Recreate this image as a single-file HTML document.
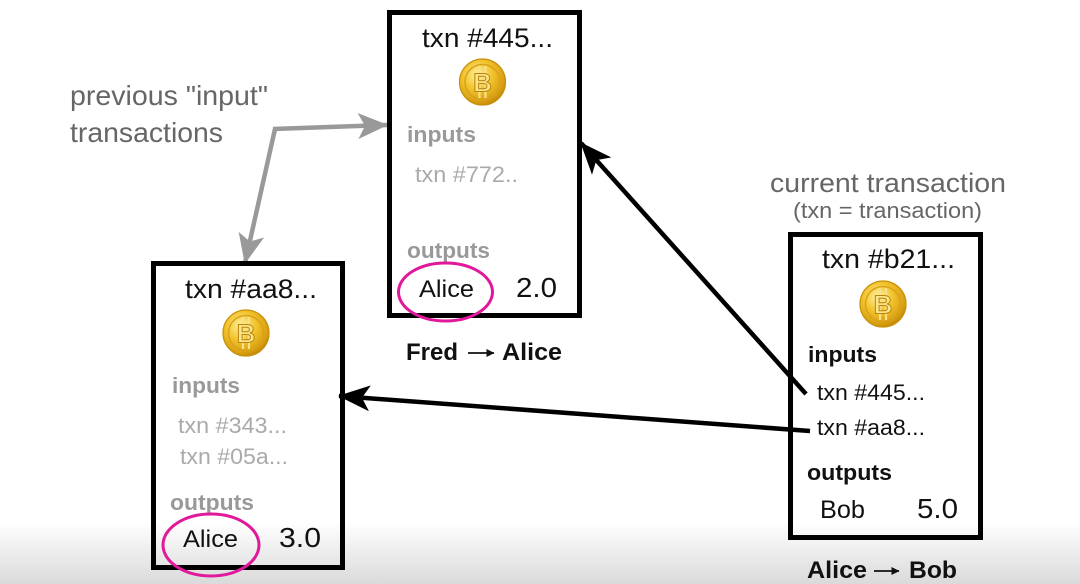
<!DOCTYPE html>
<html><head><meta charset="utf-8">
<style>
html,body{margin:0;padding:0;background:#fff;}
svg{display:block;}
text{font-family:"Liberation Sans",Arial,sans-serif;}
</style></head>
<body>
<svg width="1080" height="584" viewBox="0 0 1080 584" xmlns="http://www.w3.org/2000/svg">
<defs>
  <linearGradient id="bg" x1="0" y1="0" x2="0" y2="1">
    <stop offset="0" stop-color="#ffffff"/>
    <stop offset="1" stop-color="#dadada"/>
  </linearGradient>
  <radialGradient id="coin" cx="0.4" cy="0.35" r="0.7">
    <stop offset="0" stop-color="#fff2a0"/>
    <stop offset="0.45" stop-color="#f2c32c"/>
    <stop offset="0.85" stop-color="#d49a0e"/>
    <stop offset="1" stop-color="#b47f08"/>
  </radialGradient>
  <marker id="ah" viewBox="0 0 32 26" refX="31" refY="13" markerUnits="userSpaceOnUse" markerWidth="32" markerHeight="26" orient="auto">
    <path d="M0,0 L32,13 L0,26 L8,13 Z" fill="#000"/>
  </marker>
  <marker id="ahg" viewBox="0 0 30 26" refX="29" refY="13" markerUnits="userSpaceOnUse" markerWidth="30" markerHeight="26" orient="auto">
    <path d="M0,0 L30,13 L0,26 L7,13 Z" fill="#999"/>
  </marker>
  <marker id="sa" viewBox="0 0 8 8" refX="7.5" refY="4" markerUnits="userSpaceOnUse" markerWidth="8" markerHeight="8" orient="auto">
    <path d="M0,0 L8,4 L0,8 Z" fill="#111"/>
  </marker>
  <g id="btc">
    <circle cx="0" cy="0" r="23.5" fill="url(#coin)"/>
    <circle cx="0" cy="0" r="23" fill="none" stroke="#c8900a" stroke-width="1.2"/>
    <circle cx="0" cy="0" r="17.5" fill="none" stroke="#d9a21a" stroke-width="1.5"/>
    <line x1="-3" y1="-16" x2="-3" y2="16" stroke="#f8e08a" stroke-width="2.2"/>
    <line x1="3" y1="-16" x2="3" y2="16" stroke="#f8e08a" stroke-width="2.2"/>
  </g>
</defs>

<rect x="0" y="0" width="1080" height="584" fill="#fff"/>
<rect x="0" y="522" width="1080" height="62" fill="url(#bg)"/>

<!-- labels top-left -->
<text x="70" y="105" font-size="28" fill="#666" textLength="198" lengthAdjust="spacingAndGlyphs">previous "input"</text>
<text x="70" y="142" font-size="28" fill="#666" textLength="153" lengthAdjust="spacingAndGlyphs">transactions</text>

<!-- gray arrows -->
<line x1="273" y1="129" x2="387" y2="125" stroke="#999" stroke-width="4.5" marker-end="url(#ahg)"/>
<line x1="275" y1="129" x2="245" y2="263" stroke="#999" stroke-width="4.5" marker-end="url(#ahg)"/>

<!-- current transaction label -->
<text x="770" y="192" font-size="27" fill="#666" textLength="236" lengthAdjust="spacingAndGlyphs">current transaction</text>
<text x="793" y="218" font-size="22" fill="#666" textLength="189" lengthAdjust="spacingAndGlyphs">(txn = transaction)</text>

<!-- Box 1 -->
<rect x="389.5" y="12.5" width="190" height="303" fill="none" stroke="#000" stroke-width="5"/>
<text x="422" y="47" font-size="27" fill="#111" textLength="131" lengthAdjust="spacingAndGlyphs">txn #445...</text>
<use href="#btc" x="482.5" y="82"/>
<text x="482.5" y="91.5" font-size="26" font-weight="bold" fill="#fbe48a" stroke="#b9840a" stroke-width="1" text-anchor="middle">B</text>
<text x="407" y="142" font-size="22" font-weight="bold" fill="#999" textLength="69" lengthAdjust="spacingAndGlyphs">inputs</text>
<text x="415" y="182" font-size="22" fill="#aaa" textLength="103" lengthAdjust="spacingAndGlyphs">txn #772..</text>
<text x="407" y="258" font-size="22" font-weight="bold" fill="#999" textLength="83" lengthAdjust="spacingAndGlyphs">outputs</text>
<text x="419" y="297" font-size="24" fill="#111" textLength="55" lengthAdjust="spacingAndGlyphs">Alice</text>
<text x="516" y="297" font-size="28" fill="#111" textLength="41" lengthAdjust="spacingAndGlyphs">2.0</text>
<ellipse cx="445.5" cy="292" rx="47" ry="29" fill="none" stroke="#e0189a" stroke-width="3"/>
<text x="406" y="360" font-size="24" font-weight="bold" fill="#111" textLength="52" lengthAdjust="spacingAndGlyphs">Fred</text>
<line x1="468" y1="353" x2="494" y2="353" stroke="#111" stroke-width="1.8" marker-end="url(#sa)"/>
<text x="502" y="360" font-size="24" font-weight="bold" fill="#111" textLength="60" lengthAdjust="spacingAndGlyphs">Alice</text>

<!-- Box 2 -->
<rect x="153.5" y="263.5" width="189" height="304" fill="none" stroke="#000" stroke-width="5"/>
<text x="185" y="298" font-size="27" fill="#111" textLength="132" lengthAdjust="spacingAndGlyphs">txn #aa8...</text>
<use href="#btc" x="246" y="333"/>
<text x="246" y="342.5" font-size="26" font-weight="bold" fill="#fbe48a" stroke="#b9840a" stroke-width="1" text-anchor="middle">B</text>
<text x="172" y="393" font-size="22" font-weight="bold" fill="#999" textLength="68" lengthAdjust="spacingAndGlyphs">inputs</text>
<text x="178" y="433" font-size="22" fill="#aaa" textLength="109" lengthAdjust="spacingAndGlyphs">txn #343...</text>
<text x="180" y="464" font-size="22" fill="#aaa" textLength="108" lengthAdjust="spacingAndGlyphs">txn #05a...</text>
<text x="170" y="510" font-size="22" font-weight="bold" fill="#999" textLength="84" lengthAdjust="spacingAndGlyphs">outputs</text>
<text x="183" y="547" font-size="24" fill="#111" textLength="55" lengthAdjust="spacingAndGlyphs">Alice</text>
<text x="279" y="547" font-size="28" fill="#111" textLength="42" lengthAdjust="spacingAndGlyphs">3.0</text>
<ellipse cx="211" cy="545" rx="48" ry="31" fill="none" stroke="#e0189a" stroke-width="3"/>

<!-- Box 3 -->
<rect x="790.5" y="234.5" width="190" height="303" fill="none" stroke="#000" stroke-width="5"/>
<text x="822" y="268" font-size="27" fill="#111" textLength="133" lengthAdjust="spacingAndGlyphs">txn #b21...</text>
<use href="#btc" x="883" y="304"/>
<text x="883" y="313.5" font-size="26" font-weight="bold" fill="#fbe48a" stroke="#b9840a" stroke-width="1" text-anchor="middle">B</text>
<text x="808" y="362" font-size="22" font-weight="bold" fill="#111" textLength="69" lengthAdjust="spacingAndGlyphs">inputs</text>
<text x="817" y="400" font-size="22" fill="#111" textLength="108" lengthAdjust="spacingAndGlyphs">txn #445...</text>
<text x="817" y="435" font-size="22" fill="#111" textLength="108" lengthAdjust="spacingAndGlyphs">txn #aa8...</text>
<text x="807" y="480" font-size="22" font-weight="bold" fill="#111" textLength="85" lengthAdjust="spacingAndGlyphs">outputs</text>
<text x="820" y="518" font-size="25" fill="#111" textLength="45" lengthAdjust="spacingAndGlyphs">Bob</text>
<text x="917" y="518" font-size="28" fill="#111" textLength="41" lengthAdjust="spacingAndGlyphs">5.0</text>
<text x="807" y="578" font-size="24" font-weight="bold" fill="#111" textLength="60" lengthAdjust="spacingAndGlyphs">Alice</text>
<line x1="874" y1="571" x2="899" y2="571" stroke="#111" stroke-width="1.8" marker-end="url(#sa)"/>
<text x="909" y="578" font-size="24" font-weight="bold" fill="#111" textLength="48" lengthAdjust="spacingAndGlyphs">Bob</text>

<!-- black arrows -->
<line x1="810" y1="431" x2="339" y2="396" stroke="#000" stroke-width="4.5" marker-end="url(#ah)"/>
<line x1="806" y1="394" x2="581" y2="143" stroke="#000" stroke-width="4.5" marker-end="url(#ah)"/>
</svg>
</body></html>
